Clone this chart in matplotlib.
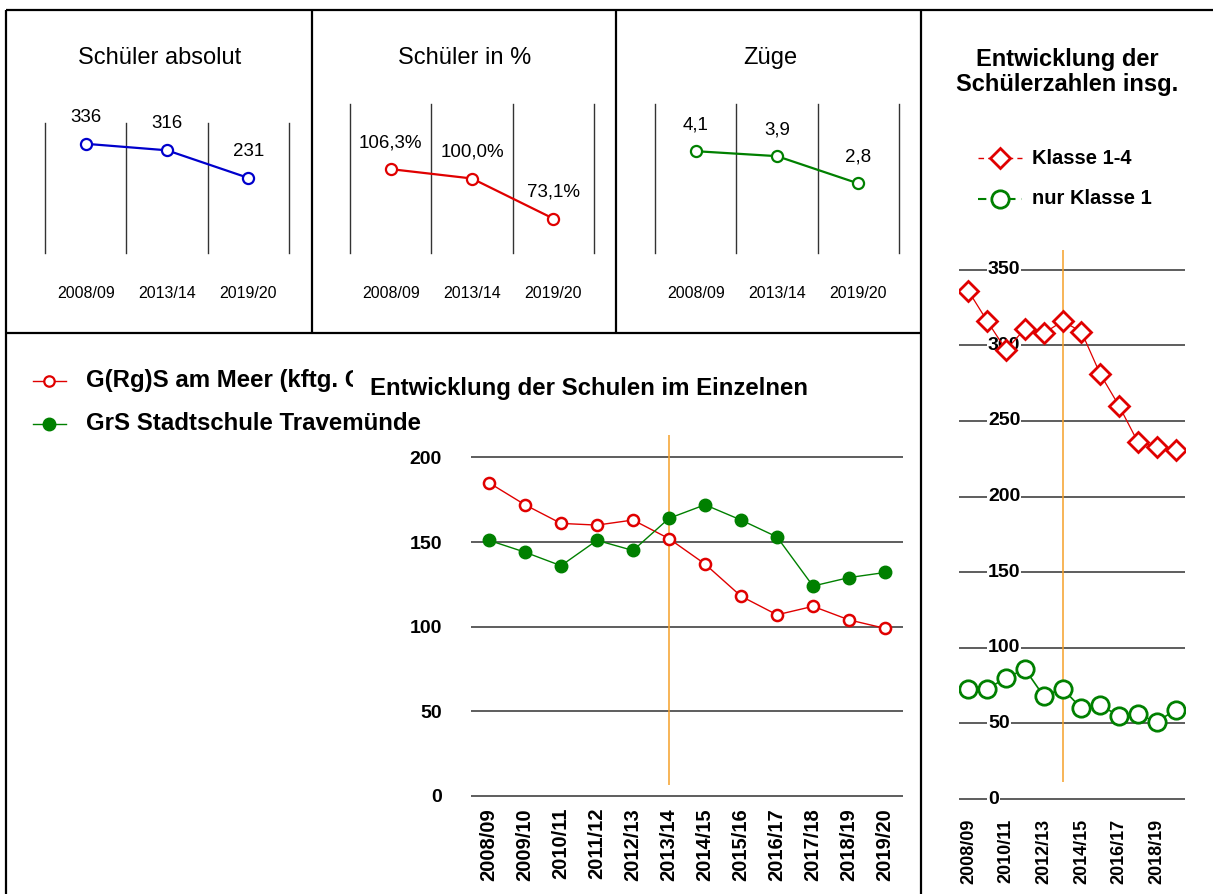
"""Schülerzahlen-Übersicht: drei Kennzahlen oben, Einzelschulen unten, Summen rechts."""
import numpy as np
import matplotlib
matplotlib.use("Agg")
import matplotlib.pyplot as plt
from matplotlib import font_manager

# --- data -------------------------------------------------------------
snap_years = ["2008/09", "2013/14", "2019/20"]
students_abs = [336, 316, 231]
students_pct = [106.3, 100.0, 73.1]
streams = [4.1, 3.9, 2.8]

years = ["2008/09", "2009/10", "2010/11", "2011/12", "2012/13", "2013/14",
         "2014/15", "2015/16", "2016/17", "2017/18", "2018/19", "2019/20"]
gems_meer = [185, 172, 161, 160, 163, 152, 137, 118, 107, 112, 104, 99]
stadtschule = [151, 144, 136, 151, 145, 164, 172, 163, 153, 124, 129, 132]
klasse_1_4 = [336, 316, 297, 311, 308, 316, 309, 281, 260, 236, 233, 231]
nur_klasse_1 = [73, 73, 80, 86, 68, 73, 60, 62, 55, 56, 51, 59]

marker_year = "2013/14"
marker_span_schools = (6.5, 213)
marker_span_total = (11, 363)

# --- style ------------------------------------------------------------
names = {f.name for f in font_manager.fontManager.ttflist}
NARROW = "Liberation Sans Narrow" if "Liberation Sans Narrow" in names else "Liberation Sans"
plt.rcParams["font.family"] = ["Liberation Sans", "DejaVu Sans"]

RED = "#e00000"
GREEN = "#008000"
BLUE = "#0000cc"
ORANGE = "#f5a02a"
GRID = "#505050"

W, H = 1213, 894
fig = plt.figure(figsize=(W / 100, H / 100), dpi=100)


def box(l, t, r, b):
    """pixel box (top-left origin) -> figure fraction rect"""
    return [l / W, 1 - b / H, (r - l) / W, (b - t) / H]


def fxy(x, y):
    return x / W, 1 - y / H


# overlay in pixel coords for frame lines and legend glyphs
ov = fig.add_axes([0, 0, 1, 1], zorder=5)
ov.set_xlim(0, W)
ov.set_ylim(H, 0)
ov.axis("off")
ov.patch.set_alpha(0)

frame = [((6, 10), (1213, 10)), ((6, 10), (6, 894)), ((6, 333), (921, 333)),
         ((312, 10), (312, 333)), ((616, 10), (616, 333)), ((921, 10), (921, 894))]
for (x0, y0), (x1, y1) in frame:
    ov.plot([x0, x1], [y0, y1], color="black", lw=1.6, solid_capstyle="butt")


# --- top panels -------------------------------------------------------
def top_panel(left, top, values, color, ylim, fmt, title, title_x):
    ax = fig.add_axes(box(left, top, left + 244, 253))
    x = np.arange(len(values))
    ax.plot(x, values, color=color, lw=1.6, marker="o", ms=8, mfc="white",
            mec=color, mew=1.6, zorder=3)
    for xi, v in zip(x, values):
        ax.annotate(fmt(v), (xi, v), xytext=(0, 19), textcoords="offset points",
                    ha="center", va="center", fontsize=13.5, family=NARROW)
    for xb in np.arange(-0.5, len(values)):
        ax.axvline(xb, color="#333333", lw=1, clip_on=False)
    ax.set_xlim(-0.5, len(values) - 0.5)
    ax.set_ylim(*ylim)
    for s in ax.spines.values():
        s.set_visible(False)
    ax.set_yticks([])
    ax.set_xticks(x)
    ax.set_xticklabels(snap_years, fontsize=11.5, family=NARROW)
    ax.tick_params(axis="x", length=0, pad=24)
    fig.text(*fxy(title_x, 58), title, ha="center", va="center", fontsize=17)


top_panel(45, 123, students_abs, BLUE, (0, 400), lambda v: f"{v:d}",
          "Schüler absolut", 160)
top_panel(350, 104, students_pct, RED, (50, 150),
          lambda v: f"{v:.1f}%".replace(".", ","), "Schüler in %", 465)
top_panel(655, 104, streams, GREEN, (0, 6),
          lambda v: f"{v:.1f}".replace(".", ","), "Züge", 770)

# --- bottom panel: schools individually --------------------------------
axb = fig.add_axes(box(471, 432, 903, 801))
xi = np.arange(len(years))
axb.plot(xi, gems_meer, color=RED, lw=1, marker="o", ms=8, mfc="white",
         mec=RED, mew=1.8, zorder=3)
axb.plot(xi, stadtschule, color=GREEN, lw=1, marker="o", ms=9, mfc=GREEN,
         mec=GREEN, zorder=3)
mx = years.index(marker_year)
axb.vlines(mx, *marker_span_schools, color=ORANGE, lw=1.1, zorder=2)
axb.set_xlim(-0.5, len(years) - 0.5)
axb.set_ylim(-3, 215)
axb.set_yticks(np.arange(0, 201, 50))
axb.yaxis.grid(True, color=GRID, lw=1.3)
axb.set_axisbelow(True)
for s in axb.spines.values():
    s.set_visible(False)
axb.set_xticks(xi)
axb.set_xticklabels(years, rotation=90, fontsize=14.5, fontweight="bold", family=NARROW)
for lab in axb.get_yticklabels():
    lab.set_fontweight("bold")
    lab.set_family(NARROW)
    lab.set_fontsize(14)
axb.tick_params(axis="y", length=0, pad=21)
axb.tick_params(axis="x", length=0, pad=5)

# legend + title (title box hides the end of the long legend entry)
ov.plot([33, 66], [381, 381], color=RED, lw=1)
ov.plot([49], [381], marker="o", ms=7.5, mfc="white", mec=RED, mew=1.6)
ov.plot([33, 66], [424, 424], color=GREEN, lw=1)
ov.plot([49], [424], marker="o", ms=9, mfc=GREEN, mec=GREEN)
ov.text(86, 381, "G(Rg)S am Meer (kftg. Gemeinschaftsschule)", ha="left", va="center",
        fontsize=17.3, fontweight="bold", zorder=1)
ov.text(86, 424, "GrS Stadtschule Travemünde", ha="left", va="center",
        fontsize=17.3, fontweight="bold", zorder=3)
ov.text(370, 388, "Entwicklung der Schulen im Einzelnen", ha="left", va="center",
        fontsize=17.3, fontweight="bold", zorder=2,
        bbox=dict(boxstyle="square,pad=0.7", facecolor="white", edgecolor="none"))

# --- right panel: totals -------------------------------------------------
axr = fig.add_axes(box(959, 247.1, 1185, 806.6))
axr.plot(xi, klasse_1_4, color=RED, lw=0.9, marker="D", ms=10, mfc="white",
         mec=RED, mew=2, zorder=3)
axr.plot(xi, nur_klasse_1, color=GREEN, lw=1.2, marker="o", ms=12.5, mfc="white",
         mec=GREEN, mew=2, zorder=3)
axr.vlines(mx, *marker_span_total, color=ORANGE, lw=1.1, zorder=2)
axr.set_xlim(-0.5, len(years) - 0.5)
axr.set_ylim(-5, 365)
yt = np.arange(0, 351, 50)
axr.set_yticks(yt)
axr.set_yticklabels([])
axr.yaxis.grid(True, color=GRID, lw=1.3)
axr.set_axisbelow(True)
for s in axr.spines.values():
    s.set_visible(False)
tf = axr.get_yaxis_transform()
for v in yt:
    axr.text(0.128, v, f"{v:d}", transform=tf, ha="left", va="center",
             fontsize=14, fontweight="bold", family=NARROW, zorder=1,
             bbox=dict(boxstyle="square,pad=0.05", facecolor="white", edgecolor="none"))
axr.set_xticks(xi[::2])
axr.set_xticklabels(years[::2], rotation=90, fontsize=13, fontweight="bold", family=NARROW)
axr.tick_params(axis="y", length=0)
axr.tick_params(axis="x", length=0, pad=9)

fig.text(*fxy(1067, 72), "Entwicklung der\nSchülerzahlen insg.", ha="center",
         va="center", fontsize=17, fontweight="bold", linespacing=1.15)
ov.plot([978, 1022], [158, 158], color=RED, lw=1, dashes=(4, 3))
ov.plot([1000], [158], marker="D", ms=10, mfc="white", mec=RED, mew=2)
ov.plot([978, 1022], [199, 199], color=GREEN, lw=1.5, dashes=(4, 3))
ov.plot([1000], [199], marker="o", ms=12.5, mfc="white", mec=GREEN, mew=2)
ov.text(1032, 158, "Klasse 1-4", ha="left", va="center", fontsize=14.5, fontweight="bold")
ov.text(1032, 199, "nur Klasse 1", ha="left", va="center", fontsize=14.5, fontweight="bold")

fig.savefig("out.png", dpi=100)
